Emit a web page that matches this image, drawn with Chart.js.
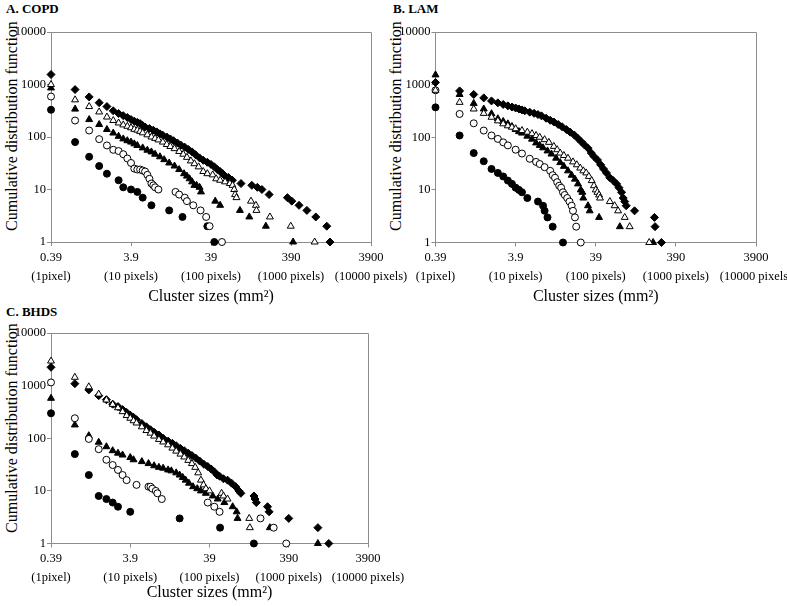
<!DOCTYPE html>
<html>
<head>
<meta charset="utf-8">
<script src="https://cdn.jsdelivr.net/npm/chart.js@4.4.1/dist/chart.umd.min.js"></script>
<style>
    body { margin: 0; width: 787px; height: 606px; overflow: hidden; background: #fff; position: relative;
           font-family: "Liberation Serif", "Times New Roman", serif; }
    canvas { position: absolute; }
    .panel-title { position: absolute; font-weight: bold; font-size: 13px; line-height: 14px; white-space: nowrap; }
    .y-title { position: absolute; width: 260px; height: 20px; line-height: 20px; font-size: 16px;
               text-align: center; white-space: nowrap; transform: rotate(-90deg); }
</style>
</head>
<body>
<div class="panel-title" style="left:6px; top:2px;">A. COPD</div>
<div class="panel-title" style="left:393px; top:2px;">B. LAM</div>
<div class="panel-title" style="left:6px; top:305px;">C. BHDS</div>
<div class="y-title" style="left:-118px; top:116px;">Cumulative distribution function</div>
<div class="y-title" style="left:266px; top:116px;">Cumulative distribution function</div>
<div class="y-title" style="left:-118px; top:418px;">Cumulative distribution function</div>

<canvas id="chartA" width="420" height="306" style="left:0px; top:0px;"></canvas>
<canvas id="chartB" width="420" height="306" style="left:384px; top:0px;"></canvas>
<canvas id="chartC" width="420" height="306" style="left:0px; top:300px;"></canvas>

<script>
// axis ticks (x values are cluster sizes in pixels, 1 pixel = 0.39 mm2)
let x_tick_values = [1, 10, 100, 1000, 10000];
let x_tick_mm = ['0.39', '3.9', '39', '390', '3900'];
let x_tick_px = ['(1pixel)', '(10 pixels)', '(100 pixels)', '(1000 pixels)', '(10000 pixels)'];
let y_tick_values = [1, 10, 100, 1000, 10000];
let y_tick_labels = ['1', '10', '100', '1000', '10000'];

// A. COPD
let copd_dot_size = [1, 2, 3, 4, 5, 7, 8, 10, 12, 14, 18, 30, 44, 90, 110];
let copd_dot_count = [330, 80, 42, 28, 20, 15, 11, 10, 9, 7, 5, 4, 3, 2, 1];
let copd_ring_size = [1, 2, 3, 4, 5, 6, 7, 8, 9, 10, 11, 12, 13, 14, 15, 16, 17, 18, 19, 20, 22, 36, 40, 47, 50, 60, 74, 87, 96, 137];
let copd_ring_count = [590, 206, 133, 91, 69, 57, 54, 47, 39, 32, 25, 24, 24, 23, 22, 19, 16, 13, 12, 11, 10, 9, 8, 7, 6, 5, 4, 3, 2, 1];
let copd_tri_size = [1, 2, 3, 4, 5, 6, 7, 8, 9, 10, 11, 12, 14, 16, 18, 20, 23, 26, 30, 35, 40, 46, 50, 54, 58, 62, 66, 72, 75, 113, 130, 230, 301, 485, 1062];
let copd_tri_count = [860, 340, 215, 173, 139, 119, 103, 92, 85, 80, 74, 69, 62, 56, 52, 47, 42, 37, 32, 28, 24, 20, 18, 16, 14, 12, 12, 11, 9, 6, 5, 4, 3, 2, 1];
let copd_open_tri_size = [1, 2, 3, 4, 5, 6, 7, 8, 9, 10, 11, 12, 13, 14, 16, 18, 20, 22, 25, 28, 31, 35, 40, 45, 50, 56, 62, 70, 80, 90, 105, 116, 130, 150, 172, 186, 195, 200, 208, 316, 364, 370, 545, 993, 1977];
let copd_open_tri_count = [1000, 510, 380, 300, 240, 206, 185, 170, 160, 150, 140, 135, 128, 120, 110, 100, 94, 88, 80, 72, 66, 60, 53, 47, 41, 35, 31, 27, 22, 20, 19, 16, 15, 14, 13, 12, 10, 8, 7, 6, 5, 4, 3, 2, 1];
let copd_diamond_size = [1, 2, 3, 4, 5, 6, 7, 8, 9, 10, 11, 12, 13, 14, 15, 17, 19, 21, 23, 25, 28, 31, 34, 38, 42, 47, 52, 58, 64, 72, 80, 90, 100, 110, 120, 130, 140, 150, 165, 185, 237, 324, 380, 433, 533, 902, 1023, 1260, 1580, 2040, 2800, 3070];
let copd_diamond_count = [1550, 800, 580, 450, 380, 315, 280, 255, 235, 215, 200, 190, 180, 165, 155, 145, 135, 125, 115, 108, 100, 92, 85, 77, 70, 64, 58, 52, 46, 40, 36, 33, 30, 27, 24, 22, 20, 18, 17, 15, 13, 12, 11, 10, 8, 7, 6, 5, 4, 3, 2, 1];

// B. LAM
let lam_dot_size = [1, 2, 3, 4, 5, 6, 7, 8, 9, 10, 11, 12, 14, 19, 22, 23, 25, 29, 39];
let lam_dot_count = [370, 108, 50, 35, 25, 21, 18, 15, 13, 11, 10, 9, 7, 6, 5, 4, 3, 2, 1];
let lam_ring_size = [1, 2, 3, 4, 5, 6, 7, 8, 10, 12, 15, 18, 20, 23, 27, 29, 31, 33, 35, 37, 39, 41, 44, 47, 50, 52, 55, 57, 65];
let lam_ring_count = [780, 277, 184, 134, 108, 93, 80, 70, 58, 49, 39, 34, 31, 27, 23, 19, 17, 14, 12, 11, 9, 8, 7, 6, 5, 4, 3, 2, 1];
let lam_tri_size = [1, 2, 3, 4, 5, 6, 7, 8, 9, 10, 11, 12, 14, 16, 18, 20, 22, 25, 28, 32, 36, 40, 45, 50, 55, 60, 65, 68, 70, 80, 84, 110, 200, 520];
let lam_tri_count = [1530, 650, 440, 345, 280, 225, 200, 180, 160, 140, 128, 120, 105, 92, 78, 70, 63, 55, 48, 40, 33, 28, 23, 19, 16, 13, 10, 9, 7, 5, 4, 3, 2, 1];
let lam_open_tri_size = [1, 2, 3, 4, 5, 6, 7, 8, 9, 10, 12, 14, 16, 18, 20, 23, 26, 30, 33, 36, 40, 45, 52, 58, 64, 70, 76, 82, 89, 95, 100, 105, 110, 113, 150, 172, 190, 230, 265, 465];
let lam_open_tri_count = [780, 460, 344, 284, 240, 205, 180, 165, 155, 145, 134, 125, 117, 108, 100, 90, 80, 67, 58, 50, 45, 40, 34, 30, 26, 23, 21, 18, 15, 12, 10, 9, 8, 7, 6, 5, 4, 3, 2, 1];
let lam_diamond_size = [1, 2, 3, 4, 5, 6, 7, 8, 9, 10, 11, 12, 13, 15, 17, 19, 21, 24, 27, 30, 34, 38, 43, 48, 54, 60, 66, 72, 80, 88, 95, 105, 115, 125, 136, 150, 165, 182, 195, 210, 220, 230, 240, 305, 540, 550, 660];
let lam_diamond_count = [1100, 760, 650, 560, 490, 450, 420, 395, 375, 360, 345, 330, 318, 300, 285, 270, 255, 230, 210, 195, 175, 158, 140, 125, 110, 95, 82, 72, 62, 50, 43, 37, 30, 25, 21, 17, 15, 13, 11, 9, 7, 6, 5, 4, 3, 2, 1];

// C. BHDS
let bhds_dot_size = [1, 2, 3, 4, 5, 6, 7, 10, 42, 136, 363];
let bhds_dot_count = [298, 50, 20, 8, 7, 6, 5, 4, 3, 2, 1];
let bhds_ring_size = [1, 2, 3, 4, 5, 6, 7, 8, 9, 12, 17, 18, 19, 21, 22, 25, 95, 115, 134, 440, 645, 930];
let bhds_ring_count = [1150, 240, 97, 62, 39, 31, 25, 20, 16, 13, 12, 12, 11, 10, 9, 7, 6, 5, 4, 3, 2, 1];
let bhds_tri_size = [1, 2, 3, 4, 5, 6, 7, 8, 10, 11, 14, 17, 20, 23, 26, 30, 33, 38, 42, 46, 50, 55, 62, 70, 78, 90, 110, 127, 154, 196, 220, 226, 577, 2330];
let bhds_tri_count = [574, 179, 112, 84, 69, 58, 52, 48, 43, 39, 36, 33, 30, 28, 27, 25, 24, 22, 20, 18, 16, 14, 12, 11, 10, 9, 8, 7, 6, 5, 4, 3, 2, 1];
let bhds_open_tri_size = [1, 2, 3, 4, 5, 6, 7, 8, 9, 10, 11, 12, 14, 16, 18, 20, 23, 26, 30, 34, 38, 43, 48, 54, 60, 66, 72, 78, 84, 90, 100, 142, 150, 169, 317, 323];
let bhds_open_tri_count = [2930, 1440, 950, 690, 533, 440, 380, 320, 270, 240, 215, 195, 165, 140, 125, 110, 95, 85, 75, 65, 57, 50, 44, 38, 33, 28, 22, 16, 13, 11, 10, 9, 8, 7, 3, 2];
let bhds_diamond_size = [1, 2, 3, 4, 5, 6, 7, 8, 9, 10, 11, 12, 14, 16, 18, 20, 23, 26, 30, 34, 38, 43, 48, 54, 60, 67, 75, 85, 95, 105, 115, 125, 134, 150, 169, 190, 214, 235, 249, 364, 375, 390, 540, 565, 1000, 2330, 3200];
let bhds_diamond_count = [2230, 1090, 830, 645, 540, 444, 400, 350, 310, 275, 250, 225, 190, 165, 145, 130, 115, 100, 88, 80, 72, 64, 58, 52, 47, 42, 37, 32, 29, 26, 23, 20, 19, 17, 16, 14, 12, 10, 9, 8, 7, 6, 5, 4, 3, 2, 1];

let axis_color = '#8c8c8c';
let serif = 'Liberation Serif';

function makePoints(sizes, counts) {
    let data = [];
    for (let i = 0; i < sizes.length; i++) {
        data.push({x: sizes[i], y: counts[i]});
    }
    return data;
}

function marker(data, style, filled, radius) {
    return {
        data: data,
        pointStyle: style,
        pointRadius: radius,
        pointHoverRadius: radius,
        pointBackgroundColor: filled ? '#000' : '#fff',
        pointBorderColor: '#000',
        pointBorderWidth: 1,
        clip: false
    };
}

// draws the top and right sides of the plot frame
const framePlugin = {
    id: 'frame',
    beforeDatasetsDraw(chart) {
        let a = chart.chartArea;
        let ctx = chart.ctx;
        let top = Math.round(a.top) + 0.5;
        let right = Math.round(a.right) + 0.5;
        ctx.save();
        ctx.strokeStyle = axis_color;
        ctx.lineWidth = 1;
        ctx.beginPath();
        ctx.moveTo(a.left, top);
        ctx.lineTo(right, top);
        ctx.lineTo(right, a.bottom);
        ctx.stroke();
        ctx.restore();
    }
};

function makePanel(id, series, pad, x_height, title_pad) {
    let ctx = document.getElementById(id).getContext('2d');
    return new Chart(ctx, {
        type: 'scatter',
        data: {
            datasets: [
                marker(makePoints(series[3][0], series[3][1]), 'triangle', false, 4),
                marker(makePoints(series[1][0], series[1][1]), 'circle', false, 3.5),
                marker(makePoints(series[4][0], series[4][1]), 'rectRot', true, 4),
                marker(makePoints(series[2][0], series[2][1]), 'triangle', true, 4),
                marker(makePoints(series[0][0], series[0][1]), 'circle', true, 3.5)
            ]
        },
        options: {
            responsive: false,
            animation: false,
            devicePixelRatio: 1,
            layout: { padding: pad },
            plugins: { legend: { display: false }, tooltip: { enabled: false } },
            scales: {
                x: {
                    type: 'logarithmic',
                    position: 'bottom',
                    min: 1,
                    max: 10000,
                    afterBuildTicks: function (scale) {
                        scale.ticks = x_tick_values.map(v => ({value: v}));
                    },
                    afterFit: function (scale) {
                        scale.height = x_height;
                    },
                    ticks: {
                        autoSkip: false, maxRotation: 0, minRotation: 0, padding: 2, color: '#000',
                        font: { family: serif, size: 12.5, lineHeight: '19px' },
                        callback: function (value, index) {
                            return [x_tick_mm[index], x_tick_px[index]];
                        }
                    },
                    grid: { display: true, drawOnChartArea: false, drawTicks: true, tickLength: 4, color: axis_color },
                    border: { display: true, color: axis_color, width: 1 },
                    title: {
                        display: true, text: 'Cluster sizes (mm²)', color: '#000',
                        font: { family: serif, size: 16, lineHeight: 1.2 },
                        padding: { top: 0, bottom: title_pad }
                    }
                },
                y: {
                    type: 'logarithmic',
                    position: 'left',
                    min: 1,
                    max: 10000,
                    afterBuildTicks: function (scale) {
                        scale.ticks = y_tick_values.map(v => ({value: v}));
                    },
                    afterFit: function (scale) {
                        scale.width = pad.yWidth;
                    },
                    ticks: {
                        autoSkip: false, padding: 1, color: '#000',
                        font: { family: serif, size: 12.5 },
                        callback: function (value, index) {
                            return y_tick_labels[index];
                        }
                    },
                    grid: { display: true, drawOnChartArea: false, drawTicks: true, tickLength: 4, color: axis_color },
                    border: { display: true, color: axis_color, width: 1 }
                }
            }
        },
        plugins: [framePlugin]
    });
}

makePanel('chartA', [
    [copd_dot_size, copd_dot_count],
    [copd_ring_size, copd_ring_count],
    [copd_tri_size, copd_tri_count],
    [copd_open_tri_size, copd_open_tri_count],
    [copd_diamond_size, copd_diamond_count]
], {top: 32, right: 49, left: 0, bottom: 0, yWidth: 51}, 64, 0);

makePanel('chartB', [
    [lam_dot_size, lam_dot_count],
    [lam_ring_size, lam_ring_count],
    [lam_tri_size, lam_tri_count],
    [lam_open_tri_size, lam_open_tri_count],
    [lam_diamond_size, lam_diamond_count]
], {top: 32, right: 48, left: 0, bottom: 0, yWidth: 51.5}, 63.5, 0);

makePanel('chartC', [
    [bhds_dot_size, bhds_dot_count],
    [bhds_ring_size, bhds_ring_count],
    [bhds_tri_size, bhds_tri_count],
    [bhds_open_tri_size, bhds_open_tri_count],
    [bhds_diamond_size, bhds_diamond_count]
], {top: 33, right: 52, left: 0, bottom: 0, yWidth: 51}, 62.5, 3.4);
</script>
</body>
</html>
